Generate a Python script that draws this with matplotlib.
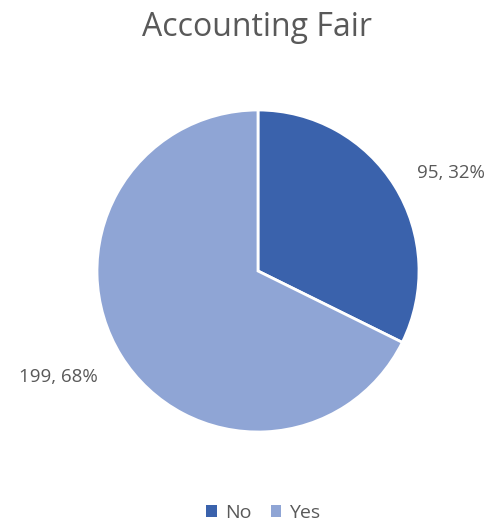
import matplotlib
matplotlib.use('Agg')
import matplotlib.pyplot as plt
from matplotlib.patches import Patch

# Data
categories = ['No', 'Yes']
counts = [95, 199]
colors = ['#3A62AC', '#8FA5D5']
title = 'Accounting Fair'

plt.rcParams['font.family'] = ['Open Sans', 'DejaVu Sans']
text_color = '#595959'

fig = plt.figure(figsize=(4.95, 5.24), dpi=100)

# Pie axes placed so the circle sits where it does in the reference
cx, cy, r = 258, 524 - 271, 161
ax = fig.add_axes([(cx - r) / 495, (cy - r) / 524, 2 * r / 495, 2 * r / 524])

total = sum(counts)
labels = ['%d, %d%%' % (c, round(100.0 * c / total)) for c in counts]

wedges, texts = ax.pie(counts, colors=colors, startangle=90, counterclock=False,
                       labels=labels, labeldistance=1.34,
                       wedgeprops=dict(edgecolor='white', linewidth=2),
                       textprops=dict(color=text_color, fontsize=13.5))
# nudge data labels to Excel's best-fit spots
texts[0].set_position((1.2, 0.61))
texts[1].set_position((-1.24, -0.66))
for t in texts:
    t.set_ha('center')
    t.set_va('center')
ax.set_xlim(-1, 1)
ax.set_ylim(-1, 1)
ax.set_aspect('equal')

fig.text(0.52, 1 - 27 / 524, title, ha='center', va='center',
         fontsize=23, color=text_color)

handles = [Patch(facecolor=c, edgecolor='none') for c in colors]
fig.legend(handles, categories, loc='center', bbox_to_anchor=(0.532, 1 - 513 / 524),
           ncol=2, frameon=False, fontsize=14, handlelength=0.55, handleheight=0.55,
           handletextpad=0.4, columnspacing=1.0, labelcolor=text_color)

fig.savefig('out.png', dpi=100)
